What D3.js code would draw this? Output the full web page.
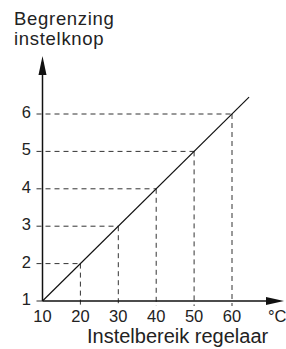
<!DOCTYPE html>
<html>
<head>
<meta charset="utf-8">
<script src="https://d3js.org/d3.v7.min.js"></script>
<style>
  body { margin: 0; background: #fff; }
  text { font-family: "Liberation Sans", Arial, sans-serif; fill: #222; }
</style>
</head>
<body>
<svg id="drawing_region"></svg>
<script>
// data
const xTicks = [10, 20, 30, 40, 50, 60];
const yTicks = [1, 2, 3, 4, 5, 6];
const guideX = [20, 30, 40, 50, 60];
const guideY = [2, 3, 4, 5, 6];
const lineX = [10, 64.5];
const lineY = [1, 6.45];

const width = 286, height = 349;
const svg = d3.select('#drawing_region')
    .attr('width', width)
    .attr('height', height);

const x = d3.scaleLinear().domain([10, 60]).range([42.5, 232]);
const y = d3.scaleLinear().domain([1, 6]).range([301, 114]);

// dashed guides
guideX.forEach((gx, i) => {
    const gy = guideY[i];
    svg.append('line')
        .attr('x1', x(10) - 6).attr('x2', x(gx))
        .attr('y1', y(gy)).attr('y2', y(gy))
        .attr('stroke', '#333').attr('stroke-width', 1)
        .attr('stroke-dasharray', '5,4');
    svg.append('line')
        .attr('x1', x(gx)).attr('x2', x(gx))
        .attr('y1', y(gy)).attr('y2', y(1) + 5)
        .attr('stroke', '#333').attr('stroke-width', 1)
        .attr('stroke-dasharray', '5,4');
});
// tick for 1
svg.append('line')
    .attr('x1', x(10) - 6).attr('x2', x(10))
    .attr('y1', y(1)).attr('y2', y(1))
    .attr('stroke', '#333');

// axes
svg.append('line')
    .attr('x1', x(10)).attr('x2', x(10))
    .attr('y1', y(1)).attr('y2', 62)
    .attr('stroke', '#111').attr('stroke-width', 1.5);
svg.append('path')
    .attr('d', `M${x(10)},56 L${x(10) - 4},75 L${x(10) + 4},75 Z`)
    .attr('fill', '#111');
svg.append('line')
    .attr('x1', x(10)).attr('x2', 270)
    .attr('y1', y(1)).attr('y2', y(1))
    .attr('stroke', '#111').attr('stroke-width', 1.5);
svg.append('path')
    .attr('d', `M284,${y(1)} L266,${y(1) - 4} L266,${y(1) + 4} Z`)
    .attr('fill', '#111');

// diagonal
const line = d3.line().x(d => x(d[0])).y(d => y(d[1]));
svg.append('path')
    .datum(d3.zip(lineX, lineY))
    .attr('d', line)
    .attr('fill', 'none')
    .attr('stroke', '#111')
    .attr('stroke-width', 1.2);

// tick labels
svg.selectAll('.ylab')
    .data(yTicks)
    .enter()
    .append('text')
    .attr('x', 31)
    .attr('y', d => y(d) + 4)
    .attr('text-anchor', 'end')
    .attr('font-size', '16.5px')
    .text(d => d);

svg.selectAll('.xlab')
    .data(xTicks)
    .enter()
    .append('text')
    .attr('x', d => x(d))
    .attr('y', 322)
    .attr('text-anchor', 'middle')
    .attr('font-size', '16.5px')
    .text(d => d);

svg.append('text')
    .attr('x', 268).attr('y', 322)
    .attr('font-size', '16.5px')
    .text('°C');

svg.append('text')
    .attr('x', 87).attr('y', 343)
    .attr('font-size', '20px')
    .text('Instelbereik regelaar');

svg.append('text')
    .attr('x', 14).attr('y', 25)
    .attr('font-size', '18.5px')
    .attr('letter-spacing', '0.7px')
    .text('Begrenzing');
svg.append('text')
    .attr('x', 14).attr('y', 45)
    .attr('font-size', '18.5px')
    .attr('letter-spacing', '0.7px')
    .text('instelknop');
</script>
</body>
</html>
